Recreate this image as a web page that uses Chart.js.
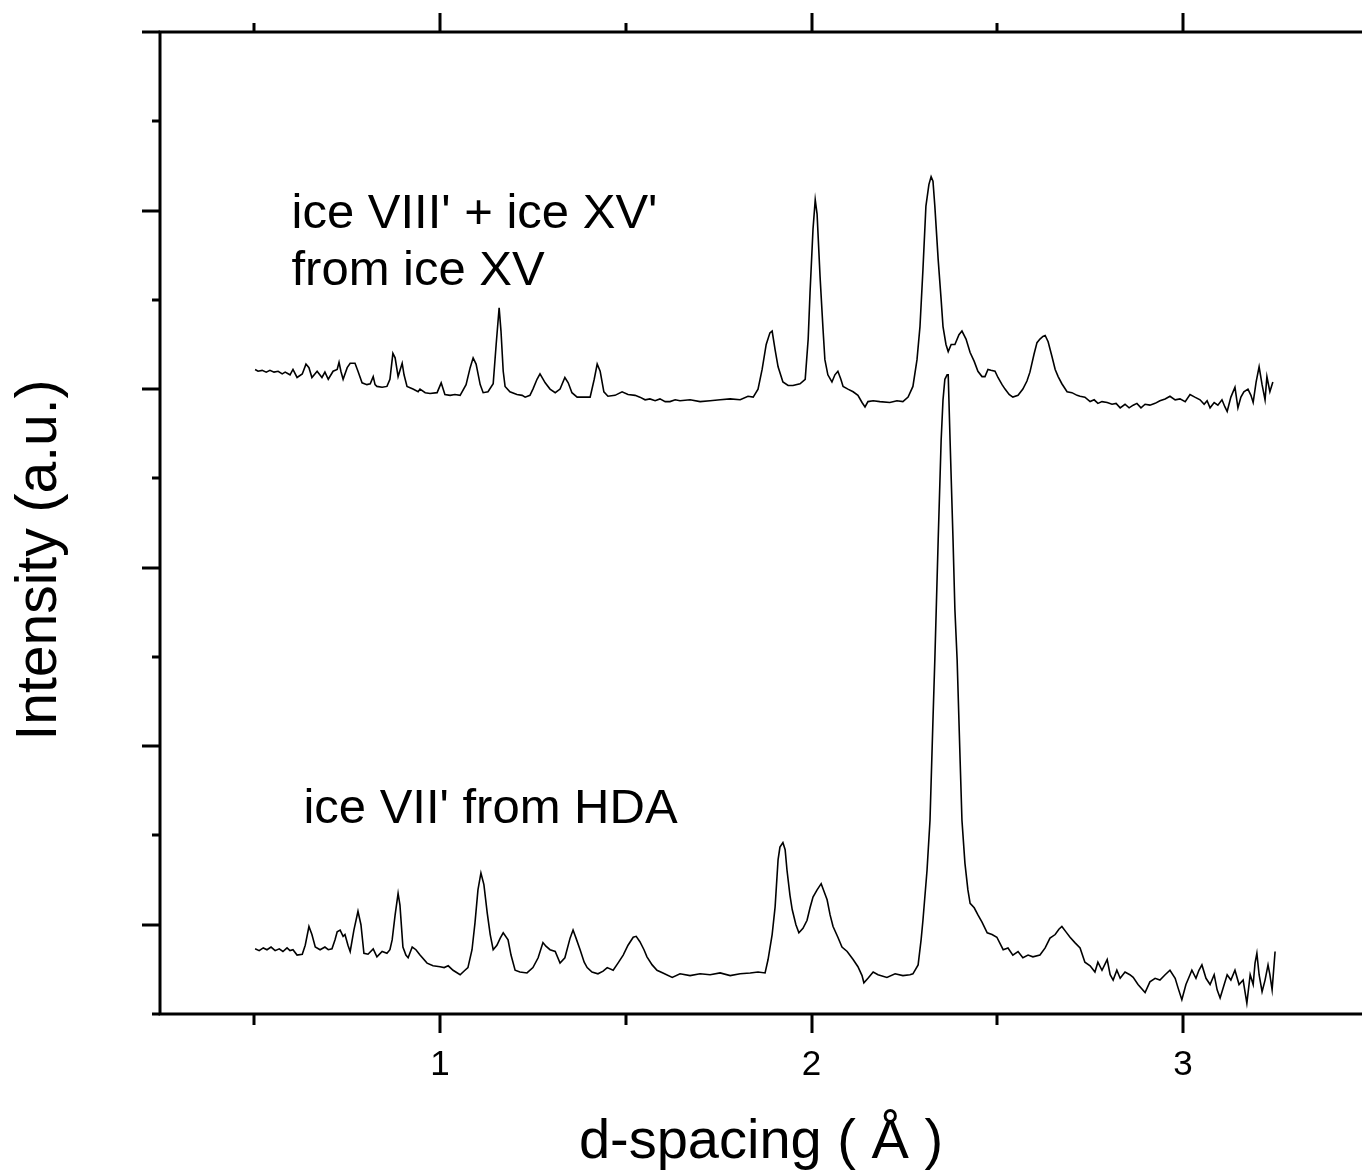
<!DOCTYPE html>
<html>
<head>
<meta charset="utf-8">
<title>d-spacing</title>
<script src="https://cdn.jsdelivr.net/npm/chart.js"></script>
<style>
  html, body { margin: 0; padding: 0; background: #fff; }
  #wrap { width: 1362px; height: 1176px; }
</style>
</head>
<body>
<div id="wrap"><canvas id="chart" width="1362" height="1176"></canvas></div>
<script>
// Diffraction patterns, [d-spacing (A), intensity (a.u.)]

// ice VIII' + ice XV' from ice XV (upper trace)
const TOP_TRACE = [
  [0.502,7.22],[0.510,7.20],[0.521,7.21],[0.532,7.19],[0.542,7.21],[0.553,7.19],[0.564,7.20],[0.575,7.17],
  [0.583,7.19],[0.596,7.16],[0.604,7.22],[0.615,7.13],[0.629,7.17],[0.639,7.28],[0.647,7.24],[0.655,7.13],
  [0.669,7.20],[0.682,7.13],[0.690,7.19],[0.699,7.11],[0.712,7.20],[0.723,7.22],[0.728,7.30],[0.733,7.20],
  [0.739,7.11],[0.750,7.24],[0.758,7.29],[0.771,7.29],[0.779,7.20],[0.790,7.07],[0.803,7.05],[0.812,7.06],
  [0.820,7.14],[0.825,7.05],[0.830,7.03],[0.844,7.02],[0.857,7.03],[0.865,7.11],[0.873,7.40],[0.879,7.35],
  [0.887,7.14],[0.898,7.29],[0.903,7.16],[0.911,7.03],[0.927,7.00],[0.941,6.97],[0.946,7.00],[0.960,6.96],
  [0.973,6.95],[0.992,6.96],[1.003,7.07],[1.013,6.94],[1.027,6.93],[1.040,6.94],[1.054,6.93],[1.070,7.05],
  [1.081,7.24],[1.089,7.35],[1.097,7.28],[1.108,7.05],[1.116,6.96],[1.129,6.97],[1.143,7.06],[1.151,7.50],
  [1.159,7.91],[1.164,7.65],[1.170,7.20],[1.175,7.03],[1.188,6.97],[1.207,6.94],[1.221,6.93],[1.229,6.91],
  [1.242,6.93],[1.250,7.00],[1.261,7.11],[1.269,7.17],[1.283,7.07],[1.296,7.00],[1.310,6.96],[1.323,7.00],
  [1.336,7.13],[1.345,7.07],[1.355,6.96],[1.369,6.91],[1.385,6.91],[1.404,6.91],[1.415,7.11],[1.423,7.28],
  [1.431,7.20],[1.441,6.97],[1.452,6.92],[1.471,6.93],[1.490,6.97],[1.506,6.94],[1.525,6.93],[1.538,6.91],
  [1.552,6.88],[1.565,6.89],[1.579,6.87],[1.592,6.89],[1.606,6.86],[1.619,6.86],[1.633,6.88],[1.646,6.87],
  [1.673,6.88],[1.700,6.86],[1.727,6.87],[1.754,6.88],[1.781,6.89],[1.808,6.88],[1.829,6.92],[1.843,6.91],
  [1.856,7.00],[1.867,7.22],[1.878,7.50],[1.888,7.63],[1.894,7.65],[1.902,7.44],[1.910,7.25],[1.923,7.08],
  [1.937,7.04],[1.950,7.04],[1.969,7.06],[1.983,7.11],[1.991,7.56],[1.996,8.08],[2.004,8.79],[2.010,9.12],
  [2.015,8.96],[2.023,8.26],[2.031,7.67],[2.036,7.33],[2.044,7.16],[2.055,7.08],[2.063,7.16],[2.071,7.20],
  [2.079,7.11],[2.085,7.03],[2.098,7.00],[2.112,6.97],[2.125,6.93],[2.136,6.85],[2.144,6.80],[2.152,6.86],
  [2.166,6.87],[2.184,6.86],[2.211,6.85],[2.230,6.87],[2.246,6.86],[2.260,6.91],[2.273,7.03],[2.284,7.33],
  [2.292,7.70],[2.300,8.34],[2.308,9.05],[2.316,9.29],[2.322,9.38],[2.327,9.33],[2.332,9.05],[2.341,8.45],
  [2.349,8.00],[2.354,7.70],[2.362,7.50],[2.368,7.42],[2.376,7.50],[2.386,7.50],[2.397,7.61],[2.405,7.65],
  [2.416,7.56],[2.427,7.41],[2.438,7.31],[2.448,7.20],[2.459,7.14],[2.467,7.14],[2.475,7.22],[2.483,7.21],
  [2.494,7.20],[2.502,7.13],[2.513,7.05],[2.521,7.00],[2.532,6.94],[2.542,6.91],[2.556,6.93],[2.569,7.00],
  [2.580,7.09],[2.588,7.19],[2.599,7.39],[2.607,7.52],[2.615,7.56],[2.623,7.59],[2.629,7.60],[2.637,7.53],
  [2.647,7.37],[2.656,7.22],[2.664,7.14],[2.674,7.06],[2.688,6.97],[2.701,6.96],[2.715,6.93],[2.723,6.92],
  [2.736,6.91],[2.750,6.86],[2.761,6.88],[2.771,6.84],[2.782,6.86],[2.796,6.85],[2.809,6.83],[2.820,6.84],
  [2.831,6.79],[2.844,6.83],[2.855,6.79],[2.866,6.82],[2.876,6.84],[2.887,6.79],[2.898,6.83],[2.911,6.82],
  [2.925,6.84],[2.938,6.87],[2.952,6.89],[2.965,6.92],[2.979,6.88],[2.992,6.89],[3.006,6.86],[3.019,6.94],
  [3.032,6.91],[3.046,6.88],[3.057,6.83],[3.065,6.87],[3.073,6.79],[3.084,6.85],[3.094,6.82],[3.105,6.88],
  [3.113,6.80],[3.119,6.75],[3.129,6.91],[3.140,7.02],[3.148,6.79],[3.156,6.91],[3.164,6.97],[3.175,7.00],
  [3.183,6.93],[3.189,6.85],[3.197,7.08],[3.205,7.25],[3.213,7.05],[3.221,6.88],[3.226,7.14],[3.234,6.97],
  [3.242,7.08]
];

// ice VII' from HDA (lower trace)
const BOTTOM_TRACE = [
  [0.502,0.73],[0.513,0.71],[0.524,0.74],[0.534,0.72],[0.545,0.75],[0.556,0.71],[0.567,0.73],[0.577,0.70],
  [0.588,0.74],[0.596,0.71],[0.604,0.72],[0.615,0.66],[0.629,0.67],[0.637,0.77],[0.647,0.98],[0.655,0.89],
  [0.664,0.75],[0.677,0.72],[0.690,0.75],[0.699,0.72],[0.709,0.73],[0.717,0.83],[0.723,0.92],[0.731,0.94],
  [0.739,0.87],[0.744,0.89],[0.752,0.77],[0.758,0.70],[0.768,0.94],[0.779,1.15],[0.787,1.00],[0.795,0.68],
  [0.806,0.67],[0.820,0.73],[0.830,0.64],[0.844,0.70],[0.857,0.68],[0.865,0.72],[0.871,0.83],[0.879,1.11],
  [0.887,1.35],[0.892,1.22],[0.900,0.75],[0.908,0.66],[0.914,0.63],[0.925,0.75],[0.935,0.72],[0.946,0.66],
  [0.965,0.57],[0.981,0.54],[1.000,0.53],[1.011,0.52],[1.022,0.54],[1.035,0.49],[1.054,0.44],[1.067,0.49],
  [1.075,0.52],[1.086,0.72],[1.094,1.02],[1.102,1.39],[1.110,1.58],[1.118,1.45],[1.127,1.13],[1.135,0.89],
  [1.143,0.72],[1.153,0.77],[1.162,0.85],[1.170,0.91],[1.183,0.83],[1.191,0.66],[1.202,0.49],[1.215,0.47],
  [1.234,0.46],[1.250,0.52],[1.264,0.63],[1.277,0.80],[1.285,0.76],[1.296,0.72],[1.310,0.70],[1.323,0.57],
  [1.336,0.63],[1.350,0.85],[1.358,0.94],[1.366,0.85],[1.377,0.72],[1.388,0.58],[1.396,0.52],[1.409,0.47],
  [1.425,0.45],[1.439,0.48],[1.450,0.52],[1.466,0.49],[1.479,0.57],[1.493,0.66],[1.506,0.77],[1.520,0.86],
  [1.528,0.87],[1.538,0.81],[1.549,0.72],[1.557,0.64],[1.571,0.55],[1.584,0.49],[1.600,0.46],[1.625,0.41],
  [1.646,0.45],[1.673,0.43],[1.700,0.45],[1.727,0.44],[1.754,0.46],[1.781,0.43],[1.808,0.45],[1.835,0.46],
  [1.856,0.47],[1.875,0.46],[1.883,0.61],[1.894,0.89],[1.902,1.20],[1.910,1.73],[1.915,1.87],[1.923,1.92],
  [1.929,1.84],[1.934,1.61],[1.942,1.33],[1.948,1.17],[1.958,1.00],[1.966,0.91],[1.977,0.96],[1.988,1.05],
  [1.996,1.19],[2.004,1.31],[2.015,1.39],[2.026,1.46],[2.034,1.37],[2.042,1.28],[2.050,1.11],[2.058,0.98],
  [2.071,0.86],[2.082,0.75],[2.096,0.70],[2.112,0.61],[2.125,0.53],[2.136,0.43],[2.141,0.35],[2.152,0.40],
  [2.166,0.47],[2.179,0.44],[2.203,0.41],[2.225,0.45],[2.246,0.43],[2.265,0.44],[2.273,0.45],[2.287,0.55],
  [2.295,0.83],[2.300,1.05],[2.311,1.61],[2.319,2.17],[2.327,3.30],[2.332,3.97],[2.341,5.31],[2.349,6.43],
  [2.354,6.88],[2.359,7.11],[2.365,7.16],[2.368,7.16],[2.373,6.43],[2.381,5.31],[2.386,4.53],[2.392,3.97],
  [2.400,2.85],[2.405,2.17],[2.413,1.69],[2.421,1.39],[2.427,1.24],[2.438,1.19],[2.448,1.11],[2.459,1.03],
  [2.473,0.91],[2.486,0.89],[2.499,0.86],[2.516,0.72],[2.529,0.74],[2.542,0.66],[2.556,0.70],[2.569,0.63],
  [2.583,0.66],[2.596,0.64],[2.615,0.66],[2.629,0.74],[2.642,0.85],[2.656,0.89],[2.666,0.95],[2.674,0.98],
  [2.685,0.92],[2.696,0.86],[2.709,0.80],[2.723,0.74],[2.736,0.58],[2.750,0.54],[2.763,0.47],[2.771,0.58],
  [2.782,0.49],[2.796,0.61],[2.804,0.44],[2.812,0.38],[2.822,0.49],[2.831,0.40],[2.844,0.47],[2.857,0.44],
  [2.866,0.41],[2.879,0.33],[2.898,0.24],[2.911,0.36],[2.925,0.40],[2.938,0.38],[2.952,0.44],[2.965,0.49],
  [2.979,0.40],[2.987,0.29],[2.997,0.16],[3.008,0.33],[3.019,0.44],[3.024,0.49],[3.035,0.40],[3.043,0.49],
  [3.051,0.55],[3.062,0.40],[3.073,0.33],[3.084,0.44],[3.092,0.27],[3.100,0.18],[3.111,0.33],[3.119,0.44],
  [3.129,0.38],[3.140,0.49],[3.151,0.33],[3.162,0.38],[3.172,0.12],[3.181,0.44],[3.189,0.33],[3.194,0.57],
  [3.199,0.68],[3.205,0.44],[3.213,0.25],[3.221,0.38],[3.229,0.55],[3.234,0.44],[3.240,0.27],[3.248,0.70]
];

// Axis ranges and ticks
const X_MIN = 0.246;
const X_MAX = 3.482;
const Y_MIN = 0;
const Y_MAX = 11;
const X_MAJOR = [1, 2, 3];
const X_MINOR = [0.5, 1.5, 2.5, 3.5];
const Y_MAJOR = [1, 3, 5, 7, 9, 11];
const Y_MINOR = [0, 2, 4, 6, 8, 10];

// Text
const X_TITLE = 'd-spacing ( Å )';
const Y_TITLE = 'Intensity (a.u.)';
const LABELS = [
  { text: "ice VIII' + ice XV'", x: 0.600, y: 8.80 },
  { text: 'from ice XV', x: 0.600, y: 8.17 },
  { text: "ice VII' from HDA", x: 0.632, y: 2.14 }
];

const FONT = "'Liberation Sans', Arial, Helvetica, sans-serif";

// Draws the frame, tick marks, y title and the text labels
const framePlugin = {
  id: 'frame',
  afterDatasetsDraw(chart) {
    const ctx = chart.ctx;
    const area = chart.chartArea;
    const xs = chart.scales.x;
    const ys = chart.scales.y;

    ctx.save();
    ctx.strokeStyle = '#000';
    ctx.lineWidth = 3;
    ctx.lineCap = 'butt';

    // axis lines: left, top, bottom
    ctx.beginPath();
    ctx.moveTo(area.left, area.top - 1.5);
    ctx.lineTo(area.left, area.bottom + 1.5);
    ctx.moveTo(area.left, area.top);
    ctx.lineTo(chart.width, area.top);
    ctx.moveTo(area.left, area.bottom);
    ctx.lineTo(chart.width, area.bottom);
    ctx.stroke();

    // x ticks, bottom (down) and top (up)
    ctx.beginPath();
    X_MAJOR.forEach(v => {
      const px = Math.round(xs.getPixelForValue(v));
      ctx.moveTo(px, area.bottom); ctx.lineTo(px, area.bottom + 19);
      ctx.moveTo(px, area.top); ctx.lineTo(px, area.top - 19);
    });
    X_MINOR.forEach(v => {
      const px = Math.round(xs.getPixelForValue(v));
      ctx.moveTo(px, area.bottom); ctx.lineTo(px, area.bottom + 11);
      ctx.moveTo(px, area.top); ctx.lineTo(px, area.top - 9);
    });
    // y ticks, pointing left
    Y_MAJOR.forEach(v => {
      const py = Math.round(ys.getPixelForValue(v));
      ctx.moveTo(area.left, py); ctx.lineTo(area.left - 18, py);
    });
    Y_MINOR.forEach(v => {
      const py = Math.round(ys.getPixelForValue(v));
      ctx.moveTo(area.left, py); ctx.lineTo(area.left - 8, py);
    });
    ctx.stroke();

    // y title
    ctx.fillStyle = '#000';
    ctx.font = '57px ' + FONT;
    ctx.textAlign = 'center';
    ctx.textBaseline = 'alphabetic';
    ctx.translate(56, 560);
    ctx.rotate(-Math.PI / 2);
    ctx.fillText(Y_TITLE, 0, 0);
    ctx.restore();

    // labels next to the traces
    ctx.save();
    ctx.fillStyle = '#000';
    ctx.font = '49px ' + FONT;
    ctx.textAlign = 'left';
    ctx.textBaseline = 'alphabetic';
    LABELS.forEach(l => {
      ctx.fillText(l.text, xs.getPixelForValue(l.x), ys.getPixelForValue(l.y));
    });
    ctx.restore();
  }
};

Chart.defaults.font.family = FONT;
Chart.defaults.color = '#000';

new Chart(document.getElementById('chart'), {
  type: 'line',
  data: {
    datasets: [
      {
        label: "ice VIII' + ice XV'",
        data: TOP_TRACE.map(p => ({ x: p[0], y: p[1] })),
        borderColor: '#000',
        borderWidth: 1.6,
        pointRadius: 0,
        tension: 0,
        fill: false
      },
      {
        label: "ice VII'",
        data: BOTTOM_TRACE.map(p => ({ x: p[0], y: p[1] })),
        borderColor: '#000',
        borderWidth: 1.6,
        pointRadius: 0,
        tension: 0,
        fill: false
      }
    ]
  },
  options: {
    responsive: false,
    animation: false,
    devicePixelRatio: 1,
    layout: { padding: { left: 160, top: 32, right: 0, bottom: 0 } },
    plugins: {
      legend: { display: false },
      tooltip: { enabled: false }
    },
    scales: {
      x: {
        type: 'linear',
        min: X_MIN,
        max: X_MAX,
        afterBuildTicks: scale => { scale.ticks = X_MAJOR.map(v => ({ value: v })); },
        afterFit: scale => { scale.height = 162; },
        grid: { display: false, drawTicks: false },
        border: { display: false },
        ticks: {
          padding: 30,
          maxRotation: 0,
          autoSkip: false,
          font: { size: 35 },
          color: '#000',
          callback: v => String(v)
        },
        title: {
          display: true,
          text: X_TITLE,
          font: { size: 56 },
          color: '#000',
          padding: { top: 0, bottom: 0 }
        }
      },
      y: {
        type: 'linear',
        display: false,
        min: Y_MIN,
        max: Y_MAX
      }
    }
  },
  plugins: [framePlugin]
});
</script>
</body>
</html>
